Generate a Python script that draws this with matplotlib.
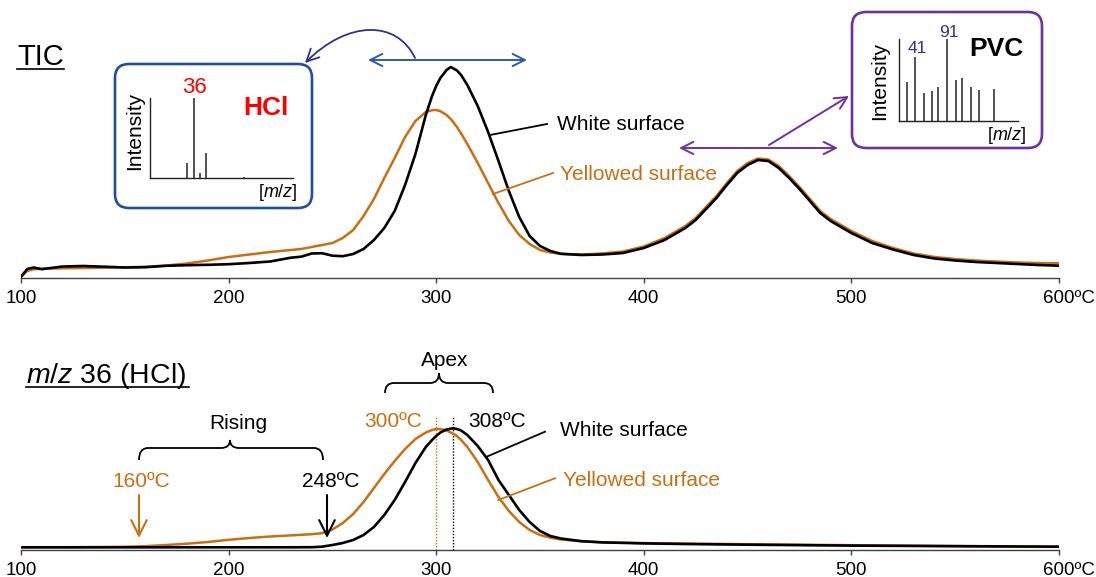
import matplotlib.pyplot as plt
from matplotlib.patches import FancyBboxPatch, FancyArrowPatch, PathPatch
from matplotlib.path import Path
from matplotlib.lines import Line2D
from matplotlib.transforms import Affine2D

plt.rcParams['font.family'] = ['Liberation Sans', 'DejaVu Sans']
plt.rcParams['mathtext.fontset'] = 'custom'
plt.rcParams['mathtext.rm'] = 'Liberation Sans'
plt.rcParams['mathtext.it'] = 'Liberation Sans:italic'

# ---- data (intensities in arbitrary units) ----
tic_temp = [100, 103, 106, 110, 120, 130, 140, 150, 160, 170, 180, 190, 200, 210, 220, 230,
            235, 240, 245, 250, 255, 260, 265, 270, 275, 280, 285, 290, 295, 298, 300, 302, 305, 307,
            310, 312, 315, 320, 325, 330, 335, 340, 345, 350, 355, 360, 370, 380, 390, 400, 410, 420,
            425, 430, 435, 440, 445, 450, 455, 460, 465, 470, 475, 480, 485, 490, 495, 500,
            510, 520, 530, 540, 550, 560, 570, 580, 590, 600]
tic_white = [1.3, 9, 10.5, 8.8, 11.5, 12, 11.3, 10.5, 10.8, 12.2, 12.8, 13.2, 13.8, 15, 16.5, 20.3,
             21.3, 24.5, 24.8, 22.3, 21.8, 24, 29, 38, 50, 67, 93, 124, 163, 182, 192, 200, 208, 211,
             207.5, 203, 193, 172, 146, 117, 87, 61, 42, 32, 27, 24.2, 23, 23.5, 25, 30, 38, 50,
             58, 69, 80, 93, 105, 113, 118, 117, 110, 100, 89, 77, 65, 57, 51, 45,
             35, 28.5, 23, 19.5, 17.5, 16, 15, 14, 13, 12.3]
tic_yellow = [1, 7, 8.7, 9.3, 9.7, 10, 10.3, 10.7, 11.2, 12.5, 14.5, 17.5, 21, 23.5, 26, 28,
              29, 31, 33, 35, 40, 48, 62, 79, 100, 120, 141, 157, 166, 167.8, 168, 166.8, 163, 159,
              151, 144.5, 134, 115, 95, 75, 57, 43, 34, 28, 25.5, 24.2, 23.5, 24.5, 26.5, 31.5, 40, 52,
              60, 71, 82, 95, 107, 115, 119.5, 118.5, 112, 102, 91, 79, 67, 59, 53, 47,
              37, 30, 24.5, 21, 19, 17.5, 16.5, 15.5, 15, 14.7]

hcl_temp = [100, 120, 140, 150, 160, 170, 180, 190, 200, 210, 220, 230, 240,
            245, 250, 255, 260, 265, 270, 275, 280, 285, 290, 295, 298, 300, 302, 305, 308,
            310, 312, 315, 320, 325, 330, 335, 340, 345, 350, 355, 360,
            370, 380, 400, 420, 450, 500, 550, 600]
hcl_white = [2.7, 2.7, 2.7, 2.7, 2.7, 2.7, 2.7, 2.7, 2.7, 2.7, 2.7, 2.7, 2.8,
             3.3, 5, 7, 10, 15, 23, 35, 50, 68, 87, 103, 110, 114, 117.5, 120.5, 121.7,
             121, 119.5, 115, 104, 90, 70, 55, 40, 28, 19, 14, 11.5,
             8.8, 7.6, 6.6, 6.0, 5.3, 4.4, 3.8, 3.3]
hcl_yellow = [2.7, 2.7, 3.0, 3.2, 3.8, 5.0, 6.3, 8.0, 10.2, 12.0, 13.5, 14.6, 15.8,
              16.8, 20.5, 27, 36, 48, 62, 76, 89, 101, 111, 117.5, 120, 121, 121, 119.5, 116.5,
              114, 110, 103, 88, 70, 53, 39, 28, 20, 15, 12.3, 10.5,
              8.7, 7.8, 6.9, 6.4, 5.8, 4.8, 4.0, 3.3]

hcl_mz = [35, 36, 37, 38, 44]
hcl_int = [18, 100, 5.5, 31, 1.5]
pvc_mz = [29, 41, 55, 67, 77, 91, 105, 115, 128, 141, 165]
pvc_int = [48, 78, 34, 36, 42, 100, 50, 53, 42, 38, 39]

temp_ticks = [100, 200, 300, 400, 500, 600]

ORANGE = '#c96f12'
BLUE = '#1f4f9f'
NAVY = '#2e3192'
PURPLE = '#7030a0'
AXIS = '#404040'

W, H = 1096, 577
fig = plt.figure(figsize=(W / 100, H / 100), dpi=100)
# pixel coordinates, origin top-left
pix = Affine2D().scale(0.01, -0.01).translate(0, H / 100) + fig.dpi_scale_trans


def frac(left, top, right, bottom):
    return [left / W, 1 - bottom / H, (right - left) / W, (bottom - top) / H]


def style_main(ax, top_px):
    ax.set_xlim(100, 600)
    ax.set_ylim(0, top_px)
    ax.patch.set_visible(False)
    for s in ['top', 'right', 'left']:
        ax.spines[s].set_visible(False)
    ax.spines['bottom'].set_color(AXIS)
    ax.spines['bottom'].set_linewidth(1.0)
    ax.set_yticks([])
    ax.set_xticks(temp_ticks)
    ax.set_xticklabels([str(t) for t in temp_ticks[:-1]] + [''])
    ax.tick_params(axis='x', direction='out', length=3.5, width=1.0, color=AXIS,
                   pad=5, labelsize=13.5)
    ax.annotate('600ºC', xy=(600, 0), xytext=(-11.3, -8.5), textcoords='offset points',
                ha='left', va='top', fontsize=13.5)


# ---- TIC panel ----
ax1 = fig.add_axes(frac(21, 0, 1059, 278))
style_main(ax1, 278)
ax1.plot(tic_temp, tic_yellow, color=ORANGE, lw=1.8, solid_joinstyle='round')
ax1.plot(tic_temp, tic_white, color='black', lw=1.9, solid_joinstyle='round')

# ---- m/z 36 panel ----
ax2 = fig.add_axes(frac(21, 300, 1059, 550))
style_main(ax2, 250)
ax2.vlines(300, 0, 134, color=ORANGE, lw=1.0, linestyles=(0, (1, 1.2)))
ax2.vlines(308, 0, 134, color='black', lw=1.0, linestyles=(0, (1, 1.2)))
ax2.plot(hcl_temp, hcl_yellow, color=ORANGE, lw=1.8, solid_joinstyle='round')
ax2.plot(hcl_temp, hcl_white, color='black', lw=1.9, solid_joinstyle='round')


def txt(x, y, s, **kw):
    kw.setdefault('fontsize', 15)
    kw.setdefault('va', 'baseline')
    fig.text(x, y, s, transform=pix, **kw)


def line(xs, ys, color='black', lw=1.3, **kw):
    fig.add_artist(Line2D(xs, ys, transform=pix, color=color, lw=lw, **kw))


def arrow(p0, p1, style='->', color='black', lw=1.4, ms=24, **kw):
    fig.add_artist(FancyArrowPatch(p0, p1, transform=pix, arrowstyle=style, color=color,
                                   lw=lw, mutation_scale=ms, shrinkA=0, shrinkB=0, **kw))


def brace(x0, x1, xm, y_tip, y_flat, y_top, r=9):
    verts = [(x0, y_tip), (x0, y_flat), (x0 + r, y_flat), (xm - r, y_flat),
             (xm, y_flat), (xm, y_top), (xm, y_flat), (xm + r, y_flat),
             (x1 - r, y_flat), (x1, y_flat), (x1, y_tip)]
    codes = [Path.MOVETO, Path.CURVE3, Path.CURVE3, Path.LINETO,
             Path.CURVE3, Path.CURVE3, Path.CURVE3, Path.CURVE3,
             Path.LINETO, Path.CURVE3, Path.CURVE3]
    fig.add_artist(PathPatch(Path(verts, codes), transform=pix, fill=False,
                             ec='black', lw=1.3))


# panel titles
txt(17, 65, 'TIC', fontsize=21)
line([17, 64], [69, 69], lw=1.2)
txt(26, 383, '$m/z$ 36 (HCl)', fontsize=20.5)
line([26, 189], [386.5, 386.5], lw=1.2)

# top labels
txt(557, 130, 'White surface')
line([490, 547], [135, 124])
txt(560, 180, 'Yellowed surface', color=ORANGE)
line([493, 553], [194, 173], color=ORANGE)

# HCl inset box
fig.add_artist(FancyBboxPatch((115, 64), 197, 144, boxstyle='round,pad=0,rounding_size=14',
                              transform=pix, fc='none', ec=BLUE, lw=1.9))
axh = fig.add_axes(frac(150, 98.3, 292.7, 177.7))
axh.vlines(hcl_mz, 0, hcl_int, color='#222222', lw=1.1)
axh.set_xlim(29.1, 51.6)
axh.set_ylim(0, 100)
txt(135, 131, 'Intensity', rotation=90, ha='center', va='center', fontsize=15)
txt(194, 93, '36', ha='center', color='red', fontsize=16)
txt(266, 115, 'HCl', ha='center', color='red', fontsize=19, fontweight='bold')
txt(278, 197, '[$m/z$]', ha='center', fontsize=13)

# PVC inset box
fig.add_artist(FancyBboxPatch((852, 12), 190, 136, boxstyle='round,pad=0,rounding_size=14',
                              transform=pix, fc='none', ec=PURPLE, lw=1.9))
axp = fig.add_axes(frac(899.3, 39.3, 1018, 120.7))
axp.vlines(pvc_mz, 0, pvc_int, color='#222222', lw=1.1)
axp.set_xlim(16.5, 202)
axp.set_ylim(0, 100)
txt(880, 81, 'Intensity', rotation=90, ha='center', va='center', fontsize=15)
txt(917, 53, '41', ha='center', color=NAVY, fontsize=12.5)
txt(948.5, 37, '91', ha='center', color=NAVY, fontsize=12.5)
txt(996, 56.5, 'PVC', ha='center', fontsize=19, fontweight='bold')
txt(1007, 140, '[$m/z$]', ha='center', fontsize=13)

for a in (axh, axp):
    a.patch.set_visible(False)
    a.spines['top'].set_visible(False)
    a.spines['right'].set_visible(False)
    for s in ('left', 'bottom'):
        a.spines[s].set_color('#222222')
        a.spines[s].set_linewidth(1.0)
    a.set_xticks([])
    a.set_yticks([])

# arrows in TIC panel
arrow((368, 60), (527, 60), style='<->', color='#2a5caa', lw=1.4, ms=22)
curve = Path([(415, 58), (397, 20), (348, 20), (305, 63)],
             [Path.MOVETO, Path.CURVE4, Path.CURVE4, Path.CURVE4])
fig.add_artist(FancyArrowPatch(path=curve, transform=pix, arrowstyle='->', color=NAVY,
                               lw=1.3, mutation_scale=22))
arrow((679, 148), (838, 148), style='<->', color=PURPLE, lw=1.4, ms=22)
arrow((769, 145), (849, 96), color=PURPLE, lw=1.4, ms=22)

# m/z 36 panel annotations
txt(238, 429, 'Rising', ha='center')
brace(139, 323, 230, 460, 448, 440)
txt(141.5, 487, '160ºC', ha='center', color=ORANGE)
txt(331, 487, '248ºC', ha='center')
arrow((139, 495), (139, 538), color=ORANGE, lw=1.5, ms=28)
arrow((327, 495), (327, 538), color='black', lw=1.5, ms=28)

txt(445, 366, 'Apex', ha='center')
brace(385, 493, 439, 393, 383, 373)
txt(393.5, 427, '300ºC', ha='center', color=ORANGE)
txt(497.5, 427, '308ºC', ha='center')

txt(560, 436, 'White surface')
line([486.7, 545], [456.7, 431.7])
txt(563, 486, 'Yellowed surface', color=ORANGE)
line([498.3, 555], [500, 478.3], color=ORANGE)

fig.savefig('out.png', dpi=100)
